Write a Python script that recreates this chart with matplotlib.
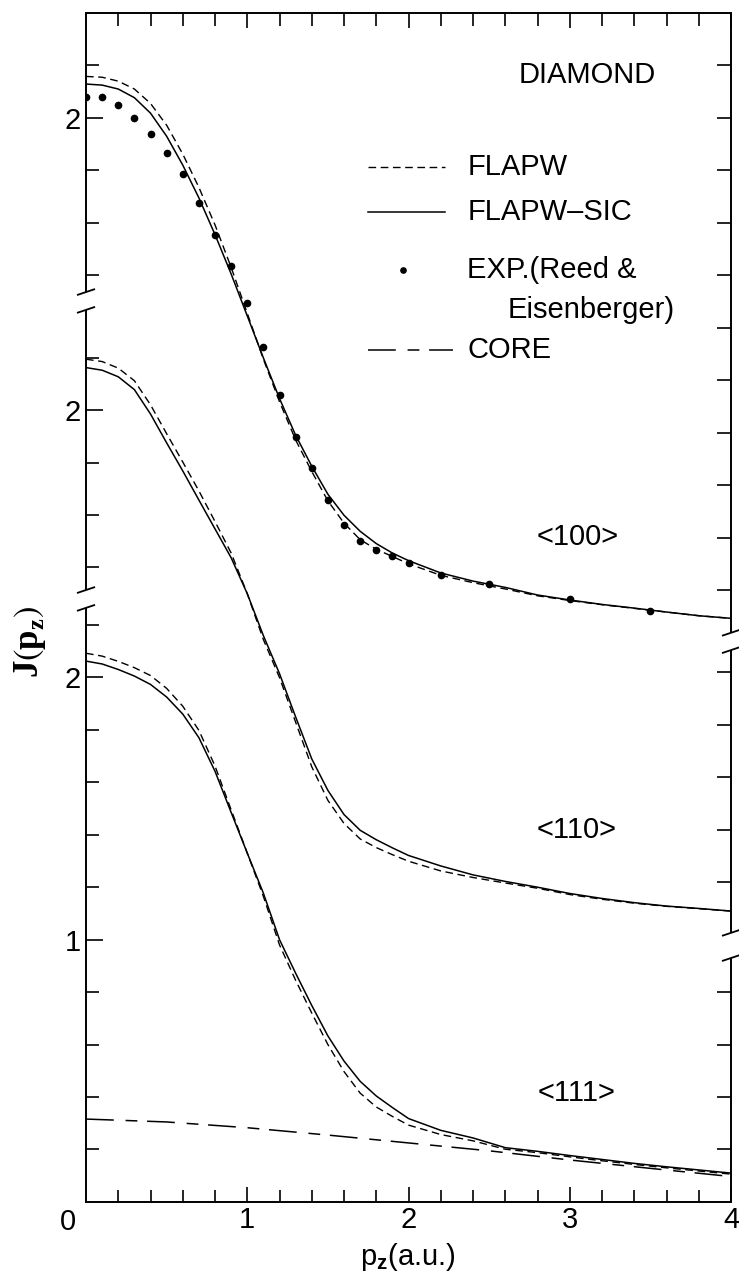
import matplotlib
matplotlib.use("Agg")
import matplotlib.pyplot as plt
import numpy as np

plt.rcParams['font.family'] = ['Liberation Sans', 'DejaVu Sans']
plt.rcParams['mathtext.fontset'] = 'custom'
plt.rcParams['mathtext.rm'] = 'Liberation Serif'
plt.rcParams['mathtext.bf'] = 'Liberation Serif:bold'
plt.rcParams['mathtext.sf'] = 'Liberation Sans:bold'
plt.rcParams['mathtext.fallback'] = 'stix'
plt.rcParams['lines.scale_dashes'] = False

# momentum grid (a.u.) shared by the calculated profiles
p = [0.0, 0.1, 0.2, 0.3, 0.4, 0.5, 0.6, 0.7, 0.8, 0.9, 1.0, 1.1, 1.2, 1.3, 1.4,
     1.5, 1.6, 1.7, 1.8, 1.9, 2.0, 2.2, 2.4, 2.6, 2.8, 3.0, 3.2, 3.4, 3.6, 3.8, 4.0]

# <100>
j100_sic = [2.129, 2.125, 2.110, 2.077, 2.018, 1.930, 1.820, 1.695, 1.555, 1.405, 1.245,
            1.085, 0.930, 0.790, 0.672, 0.565, 0.485, 0.424, 0.377, 0.341, 0.312,
            0.265, 0.234, 0.210, 0.181, 0.162, 0.145, 0.131, 0.116, 0.102, 0.092]
j100_flapw = [2.158, 2.155, 2.140, 2.110, 2.055, 1.972, 1.862, 1.735, 1.592, 1.430, 1.255,
              1.080, 0.918, 0.772, 0.652, 0.540, 0.455, 0.392, 0.355, 0.328, 0.300,
              0.256, 0.228, 0.204, 0.178, 0.160, 0.144, 0.130, 0.116, 0.102, 0.092]
# <110>
j110_sic = [2.162, 2.152, 2.127, 2.078, 1.985, 1.875, 1.768, 1.657, 1.547, 1.437, 1.300,
            1.140, 0.995, 0.830, 0.670, 0.550, 0.458, 0.398, 0.362, 0.331, 0.302,
            0.262, 0.228, 0.203, 0.181, 0.157, 0.138, 0.122, 0.109, 0.100, 0.090]
j110_flapw = [2.194, 2.185, 2.160, 2.112, 2.020, 1.910, 1.802, 1.692, 1.575, 1.455, 1.300,
              1.125, 0.980, 0.810, 0.640, 0.512, 0.424, 0.365, 0.332, 0.305, 0.280,
              0.243, 0.218, 0.197, 0.177, 0.153, 0.135, 0.120, 0.108, 0.099, 0.090]
# <111>
j111_sic = [2.062, 2.051, 2.030, 2.005, 1.973, 1.925, 1.860, 1.770, 1.642, 1.485, 1.330,
            1.177, 1.000, 0.872, 0.749, 0.633, 0.537, 0.460, 0.404, 0.360, 0.318,
            0.273, 0.244, 0.207, 0.193, 0.177, 0.162, 0.147, 0.134, 0.122, 0.110]
j111_flapw = [2.092, 2.081, 2.061, 2.037, 2.007, 1.958, 1.890, 1.798, 1.662, 1.495, 1.330,
              1.165, 0.980, 0.845, 0.720, 0.600, 0.497, 0.415, 0.362, 0.326, 0.293,
              0.257, 0.233, 0.201, 0.188, 0.172, 0.157, 0.143, 0.130, 0.118, 0.106]

# experiment (Reed & Eisenberger), <100>
p_exp = [0.0, 0.1, 0.2, 0.3, 0.4, 0.5, 0.6, 0.7, 0.8, 0.9, 1.0, 1.1, 1.2, 1.3, 1.4,
         1.5, 1.6, 1.7, 1.8, 1.9, 2.0, 2.2, 2.5, 3.0, 3.5]
j100_exp = [2.079, 2.079, 2.050, 2.000, 1.937, 1.867, 1.785, 1.676, 1.555, 1.434, 1.295,
            1.127, 0.942, 0.785, 0.664, 0.544, 0.449, 0.386, 0.354, 0.329, 0.303,
            0.259, 0.222, 0.167, 0.121]

# core contribution (drawn with <111>)
p_core = [0.0, 0.5, 1.0, 1.5, 2.0, 2.5, 3.0, 3.5, 4.0]
j_core = [0.316, 0.305, 0.283, 0.255, 0.225, 0.195, 0.160, 0.128, 0.097]

# vertical shift of each direction on the common axis
off100 = 2.133
off110 = 1.019
off111 = 0.0

dash = (0, (5.5, 3.3))
dashdot = (0, (20, 8.5, 8.5, 7))

fig = plt.figure(figsize=(7.39, 12.84), dpi=100)
ax = fig.add_axes([0.1164, 0.0639, 0.8728, 0.9260])
ax.set_xlim(0, 4)
ax.set_ylim(0, 4.533)

for js, jf, off in [(j100_sic, j100_flapw, off100),
                    (j110_sic, j110_flapw, off110),
                    (j111_sic, j111_flapw, off111)]:
    ax.plot(p, np.array(jf) + off, color='k', lw=1.0, ls=dash)
    ax.plot(p, np.array(js) + off, color='k', lw=1.1)

ax.plot(p_exp, np.array(j100_exp) + off100, 'ko', ms=4.5, ls='none')
ax.plot(p_core, np.array(j_core) + off111, color='k', lw=1.1, ls=dashdot)

# broken left / right axes
for s in ['left', 'right']:
    ax.spines[s].set_visible(False)
ax.spines['top'].set_linewidth(1.4)
ax.spines['bottom'].set_linewidth(1.4)

ymax = ax.get_ylim()[1]
left_breaks = [(2.299, 0.034), (3.435, 0.034)]
right_breaks = [(2.137, 0.033), (0.978, 0.048)]
dx, dy = 0.056, 0.0115
for xs, brk in [(0, left_breaks), (4, right_breaks)]:
    edges = [0]
    for c, h in sorted(brk):
        edges += [c - h, c + h]
        for yy in (c - h, c + h):
            ax.plot([xs - dx, xs + dx], [yy - dy, yy + dy], color='k', lw=1.3,
                    clip_on=False, solid_capstyle='butt')
    edges.append(ymax)
    for a, b in zip(edges[0::2], edges[1::2]):
        ax.plot([xs, xs], [a, b], color='k', lw=1.4, clip_on=False,
                solid_capstyle='butt')

# left ticks
left_major = [1 + off111, 2 + off111, 2 + off110, 2 + off100]
left_minor = [v + off111 for v in [0.2, 0.4, 0.6, 0.8, 1.2, 1.4, 1.6, 1.8, 2.2]]
left_minor += [v + off110 for v in [1.4, 1.6, 1.8, 2.2]]
left_minor += [v + off100 for v in [1.4, 1.6, 1.8, 2.2]]
ax.set_yticks(left_major, ['1', '2', '2', '2'])
ax.set_yticks(left_minor, minor=True)

ax.set_xticks([1, 2, 3, 4], ['1', '2', '3', '4'])
ax.set_xticks([0.2, 0.4, 0.6, 0.8, 1.2, 1.4, 1.6, 1.8, 2.2, 2.4, 2.6, 2.8,
               3.2, 3.4, 3.6, 3.8], minor=True)
ax.tick_params(axis='both', which='both', direction='in', width=1.2,
               labelsize=21, top=True, right=False)
ax.tick_params(axis='y', which='major', length=12, pad=4)
ax.tick_params(axis='y', which='minor', length=9)
ax.tick_params(axis='x', which='major', length=11, pad=3)
ax.tick_params(axis='x', which='minor', length=9)
ax.annotate('0', (0, 0), xytext=(-13, -4), textcoords='offset points',
            ha='center', va='top', fontsize=21)

# right ticks
ax2 = ax.twinx()
ax2.set_ylim(ax.get_ylim())
for s in ax2.spines.values():
    s.set_visible(False)
right_ticks = [v / 10 + off100 for v in range(2, 23, 2)]
right_ticks += [v / 10 + off110 for v in range(2, 11, 2)]
right_ticks += [v / 10 + off111 for v in range(2, 9, 2)]
ax2.set_yticks(right_ticks)
ax2.tick_params(axis='y', direction='in', length=10, width=1.2, labelright=False)

# labels
fs = 21
ax.text(0.777, 0.948, 'DIAMOND', transform=ax.transAxes, ha='center', va='center', fontsize=fs)
ax.text(0.763, 0.559, '<100>', transform=ax.transAxes, ha='center', va='center', fontsize=fs)
ax.text(0.761, 0.313, '<110>', transform=ax.transAxes, ha='center', va='center', fontsize=fs)
ax.text(0.760, 0.092, '<111>', transform=ax.transAxes, ha='center', va='center', fontsize=fs)

# legend
lx0, lx1, tx = 0.437, 0.557, 0.591
ax.plot([lx0, lx1], [0.8705, 0.8705], transform=ax.transAxes, color='k', lw=1.0, ls=dash)
ax.text(tx, 0.8705, 'FLAPW', transform=ax.transAxes, va='center', fontsize=fs)
ax.plot([lx0, lx1], [0.8326, 0.8326], transform=ax.transAxes, color='k', lw=1.1)
ax.text(tx, 0.8326, 'FLAPW–SIC', transform=ax.transAxes, va='center', fontsize=fs)
ax.plot([0.491], [0.7839], 'ko', ms=3.8, transform=ax.transAxes)
ax.text(tx, 0.7839, 'EXP.(Reed &', transform=ax.transAxes, va='center', fontsize=fs)
ax.text(0.654, 0.7502, 'Eisenberger)', transform=ax.transAxes, va='center', fontsize=fs)
ax.plot([lx0, 0.569], [0.7166, 0.7166], transform=ax.transAxes, color='k', lw=1.1, ls=dashdot)
ax.text(tx, 0.7166, 'CORE', transform=ax.transAxes, va='center', fontsize=fs)

fig.text(0.0406, 0.500, r'$\mathbf{J}\left(\mathbf{p}_{\mathbf{z}}\right)$', rotation=90,
         ha='center', va='center', fontsize=25)
fig.text(0.552, 0.021, r'p$_\mathsf{z}$(a.u.)', ha='center', va='center', fontsize=fs)

fig.savefig('out.png', dpi=100)
